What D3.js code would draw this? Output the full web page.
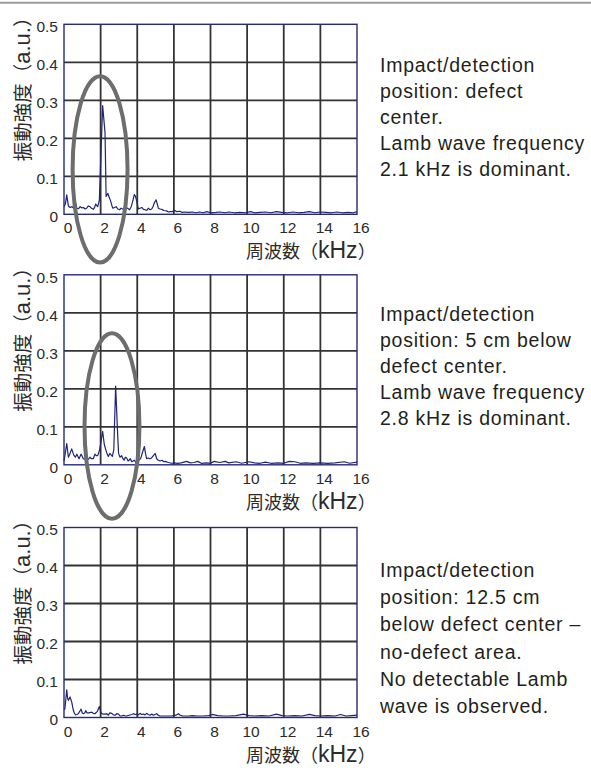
<!DOCTYPE html>
<html>
<head>
<meta charset="utf-8">
<script src="https://cdn.jsdelivr.net/npm/d3@7"></script>
<style>
  html, body { margin: 0; padding: 0; background: #fff; }
  svg { display: block; }
</style>
</head>
<body>
<svg id="chart" width="591" height="773"></svg>
<script>
// ---------- data ----------
const xTicks = [0, 2, 4, 6, 8, 10, 12, 14, 16];
const yTicks = [0, 0.1, 0.2, 0.3, 0.4, 0.5];
const yTickLabels = ["0", "0.1", "0.2", "0.3", "0.4", "0.5"];
const xTitleParts = ["周波数", "（", "kHz", "）"];
const yTitleParts = ["振動強度", "（", "a.u.", "）"];

// spectrum 1: defect center (kHz, amplitude)
const spec1 = [
[0.00,0.020],[0.08,0.028],[0.15,0.051],[0.24,0.022],[0.33,0.018],[0.42,0.020],[0.50,0.017],[0.60,0.038],
[0.70,0.016],[0.80,0.015],[0.88,0.020],[0.97,0.017],[1.06,0.018],[1.15,0.014],[1.24,0.016],[1.33,0.022],
[1.42,0.020],[1.50,0.016],[1.60,0.013],[1.67,0.018],[1.73,0.027],[1.84,0.020],[1.93,0.037],[2.11,0.286],
[2.24,0.215],[2.30,0.047],[2.40,0.055],[2.47,0.044],[2.54,0.036],[2.62,0.022],[2.67,0.016],[2.76,0.018],
[2.85,0.020],[2.94,0.014],[3.03,0.012],[3.12,0.016],[3.20,0.014],[3.30,0.012],[3.40,0.018],[3.49,0.015],
[3.58,0.012],[3.67,0.020],[3.75,0.034],[3.84,0.052],[3.90,0.048],[3.97,0.035],[4.06,0.014],[4.15,0.016],
[4.25,0.018],[4.34,0.013],[4.43,0.012],[4.52,0.010],[4.60,0.016],[4.70,0.012],[4.79,0.014],[4.86,0.020],
[4.93,0.030],[5.03,0.038],[5.10,0.026],[5.15,0.016],[5.25,0.014],[5.34,0.013],[5.45,0.010],[5.60,0.009],
[5.70,0.006],[5.79,0.007],[5.90,0.007],[6.06,0.010],[6.15,0.007],[6.34,0.008],[6.45,0.005],[6.60,0.006],
[6.80,0.005],[7.00,0.006],[7.20,0.004],[7.40,0.006],[7.60,0.004],[7.80,0.007],[8.00,0.004],[8.30,0.005],
[8.50,0.006],[8.80,0.004],[9.00,0.006],[9.30,0.004],[9.60,0.005],[9.90,0.004],[10.20,0.007],[10.40,0.004],
[10.70,0.005],[11.00,0.006],[11.30,0.004],[11.60,0.007],[11.90,0.005],[12.20,0.004],[12.50,0.006],[12.80,0.004],
[13.10,0.005],[13.40,0.007],[13.70,0.004],[14.00,0.006],[14.30,0.005],[14.60,0.004],[14.90,0.006],[15.20,0.004],
[15.50,0.005],[15.80,0.004],[16.00,0.007]
];

// spectrum 2: 5 cm below defect center
const spec2 = [
[0.00,0.010],[0.05,0.024],[0.15,0.056],[0.24,0.020],[0.33,0.030],[0.42,0.042],[0.50,0.030],[0.55,0.024],
[0.62,0.020],[0.70,0.028],[0.76,0.022],[0.82,0.016],[0.93,0.028],[1.00,0.022],[1.05,0.016],[1.15,0.014],
[1.24,0.016],[1.33,0.014],[1.42,0.020],[1.50,0.016],[1.60,0.016],[1.69,0.028],[1.76,0.024],[1.84,0.024],
[1.93,0.037],[2.02,0.060],[2.11,0.088],[2.20,0.054],[2.28,0.040],[2.33,0.032],[2.42,0.022],[2.50,0.030],
[2.57,0.026],[2.64,0.022],[2.72,0.040],[2.82,0.207],[2.93,0.080],[2.98,0.030],[3.06,0.020],[3.15,0.024],
[3.22,0.016],[3.28,0.012],[3.35,0.020],[3.42,0.018],[3.50,0.010],[3.55,0.012],[3.62,0.016],[3.70,0.008],
[3.77,0.010],[3.84,0.012],[3.90,0.008],[3.97,0.004],[4.05,0.010],[4.12,0.014],[4.20,0.018],[4.30,0.035],
[4.39,0.048],[4.45,0.030],[4.51,0.016],[4.60,0.018],[4.70,0.016],[4.78,0.018],[4.88,0.024],[4.98,0.030],
[5.06,0.016],[5.15,0.012],[5.25,0.010],[5.35,0.012],[5.45,0.008],[5.52,0.009],[5.70,0.006],[5.86,0.004],
[6.00,0.005],[6.20,0.004],[6.40,0.005],[6.70,0.009],[6.90,0.005],[7.10,0.006],[7.30,0.009],[7.50,0.004],
[7.80,0.005],[8.00,0.004],[8.20,0.009],[8.50,0.006],[8.80,0.009],[9.00,0.005],[9.40,0.008],[9.70,0.004],
[10.10,0.008],[10.40,0.005],[10.70,0.004],[11.00,0.007],[11.30,0.004],[11.70,0.005],[12.00,0.004],[12.30,0.009],
[12.60,0.008],[12.90,0.004],[13.20,0.005],[13.60,0.004],[14.00,0.005],[14.40,0.004],[14.80,0.005],[15.30,0.008],
[15.60,0.004],[16.00,0.007]
];

// spectrum 3: 12.5 cm below defect center (no-defect area)
const spec3 = [
[0.00,0.020],[0.05,0.023],[0.15,0.073],[0.20,0.050],[0.24,0.045],[0.33,0.054],[0.42,0.041],[0.51,0.019],
[0.58,0.010],[0.64,0.007],[0.70,0.008],[0.78,0.010],[0.86,0.016],[0.93,0.022],[1.00,0.012],[1.06,0.010],
[1.13,0.012],[1.19,0.018],[1.26,0.012],[1.33,0.012],[1.42,0.013],[1.51,0.014],[1.60,0.011],[1.69,0.010],
[1.76,0.013],[1.82,0.016],[1.93,0.029],[2.00,0.016],[2.06,0.010],[2.15,0.009],[2.24,0.009],[2.33,0.010],
[2.42,0.006],[2.50,0.012],[2.60,0.011],[2.70,0.007],[2.80,0.006],[2.88,0.010],[2.97,0.009],[3.06,0.004],
[3.15,0.004],[3.25,0.006],[3.35,0.004],[3.42,0.004],[3.55,0.006],[3.70,0.008],[3.79,0.010],[3.88,0.008],
[3.97,0.009],[4.06,0.007],[4.15,0.011],[4.24,0.008],[4.33,0.009],[4.42,0.007],[4.51,0.011],[4.60,0.008],
[4.70,0.006],[4.79,0.009],[4.88,0.006],[4.97,0.008],[5.06,0.010],[5.15,0.006],[5.25,0.004],[5.40,0.004],
[5.55,0.004],[5.70,0.004],[5.85,0.004],[6.00,0.005],[6.15,0.007],[6.25,0.010],[6.35,0.006],[6.50,0.004],
[6.80,0.004],[7.00,0.005],[7.30,0.004],[7.60,0.004],[7.90,0.005],[8.10,0.008],[8.40,0.005],[8.70,0.004],
[9.00,0.004],[9.40,0.005],[9.80,0.009],[10.10,0.005],[10.40,0.004],[10.80,0.005],[11.20,0.004],[11.60,0.009],
[11.90,0.005],[12.20,0.004],[12.60,0.005],[13.00,0.004],[13.40,0.008],[13.70,0.005],[14.00,0.004],[14.40,0.005],
[14.80,0.004],[15.10,0.008],[15.40,0.004],[15.70,0.005],[16.00,0.006]
];

const spectra = [spec1, spec2, spec3];

// highlight ellipses (center kHz, center amplitude, half-width kHz, half-height amplitude)
const ellipseCx = [1.97, 2.62, null];
const ellipseCy = [0.118, 0.102, null];
const ellipseRx = [1.50, 1.50, null];
const ellipseRy = [0.245, 0.244, null];

const notes = [
  ["Impact/detection", "position: defect", "center.", "Lamb wave frequency", "2.1 kHz is dominant."],
  ["Impact/detection", "position: 5 cm below", "defect center.", "Lamb wave frequency", "2.8 kHz is dominant."],
  ["Impact/detection", "position: 12.5 cm", "below defect center –", "no-defect area.", "No detectable Lamb", "wave is observed."]
];

// ---------- layout ----------
const svg = d3.select("#chart");
const plotLeft = 64, plotRight = 357, plotH = 190;
const panelTops = [24.3, 274.8, 527.5];
const noteFirstBaseline = [71.7, 320.7, 576.7];
const noteLineH = [26.1, 26.1, 27.3];
const latin = "'Liberation Sans', Arial, Helvetica, sans-serif";
const cjk = "'Noto Sans CJK JP', sans-serif";
const navy = "#272b78";
const ink = "#2b2b2b";

svg.append("line")
  .attr("x1", 0).attr("x2", 591).attr("y1", 2.8).attr("y2", 2.8)
  .attr("stroke", "#9a9a9a").attr("stroke-width", 2);

const x = d3.scaleLinear().domain([0, 16]).range([plotLeft, plotRight]);

function addTitle(sel, parts, cjkSize, latinSize) {
  parts.forEach((p, k) => {
    sel.append("tspan").text(p)
      .attr("font-family", k === 2 ? latin : cjk)
      .attr("font-size", k === 2 ? latinSize : cjkSize);
  });
}

spectra.forEach((spec, i) => {
  const top = panelTops[i];
  const y = d3.scaleLinear().domain([0, 0.5]).range([top + plotH, top]);
  const g = svg.append("g");

  // grid
  g.append("g").selectAll("line").data(xTicks.slice(1, -1)).join("line")
    .attr("x1", d => x(d)).attr("x2", d => x(d))
    .attr("y1", y(0)).attr("y2", y(0.5))
    .attr("stroke", "#333").attr("stroke-width", 1.8);
  g.append("g").selectAll("line").data(yTicks.slice(1, -1)).join("line")
    .attr("x1", x(0)).attr("x2", x(16))
    .attr("y1", d => y(d)).attr("y2", d => y(d))
    .attr("stroke", "#333").attr("stroke-width", 1.8);

  // data line
  const line = d3.line().x(d => x(d[0])).y(d => y(d[1]));
  g.append("path").datum(spec).attr("d", line)
    .attr("fill", "none").attr("stroke", "#1f2478").attr("stroke-width", 1.2)
    .attr("stroke-linejoin", "round");

  // frame
  g.append("rect").attr("x", x(0)).attr("y", y(0.5))
    .attr("width", x(16) - x(0)).attr("height", y(0) - y(0.5))
    .attr("fill", "none").attr("stroke", navy).attr("stroke-width", 1.4);

  // axes (labels only)
  const xAxis = d3.axisBottom(x).tickValues(xTicks).tickSize(0).tickPadding(8);
  const gx = g.append("g").attr("transform", `translate(3.5,${y(0)})`).call(xAxis);
  gx.select(".domain").remove();
  gx.selectAll("text").attr("font-family", latin).attr("font-size", 15.5).attr("fill", ink);

  const yAxis = d3.axisLeft(y).tickValues(yTicks).tickSize(0).tickPadding(6)
    .tickFormat((d, k) => yTickLabels[k]);
  const gy = g.append("g").attr("transform", `translate(${plotLeft},2.5)`).call(yAxis);
  gy.select(".domain").remove();
  gy.selectAll("text").attr("font-family", latin).attr("font-size", 15.5).attr("fill", ink);

  // titles
  const xt = g.append("text")
    .attr("x", 246).attr("y", y(0) + 44)
    .attr("fill", ink);
  addTitle(xt, xTitleParts, 18, 23);
  const yt = g.append("text")
    .attr("transform", `translate(30,${top + 137}) rotate(-90)`)
    .attr("fill", ink);
  addTitle(yt, yTitleParts, 19.5, 22);

  // ellipse
  if (ellipseCx[i] !== null) {
    g.append("ellipse")
      .attr("cx", x(ellipseCx[i])).attr("cy", y(ellipseCy[i]))
      .attr("rx", x(ellipseRx[i]) - x(0)).attr("ry", y(0) - y(ellipseRy[i]))
      .attr("fill", "none").attr("stroke", "#6b6e6c").attr("stroke-width", 4);
  }

  // notes
  const t = svg.append("text")
    .attr("font-family", latin).attr("font-size", 19.5).attr("fill", "#231f20")
    .attr("letter-spacing", 0.75);
  notes[i].forEach((s, k) => {
    t.append("tspan").attr("x", 380).attr("y", noteFirstBaseline[i] + k * noteLineH[i]).text(s);
  });
});
</script>
</body>
</html>
